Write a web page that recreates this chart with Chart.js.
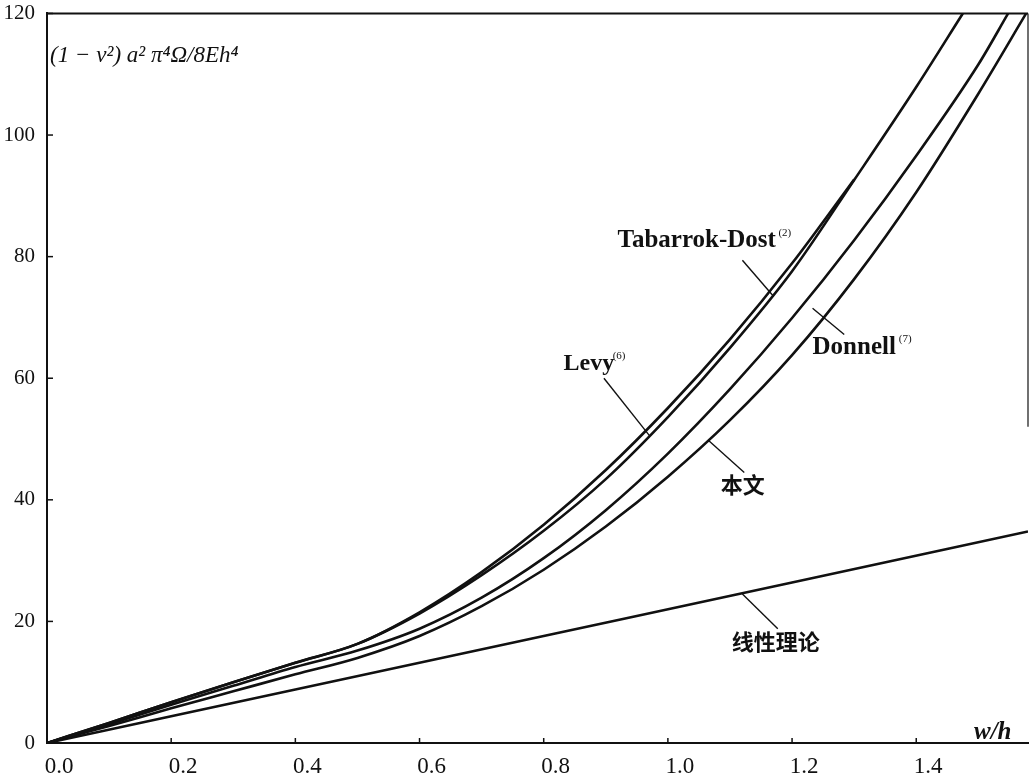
<!DOCTYPE html>
<html>
<head>
<meta charset="utf-8">
<script src="https://cdn.jsdelivr.net/npm/chart.js@4.4.0/dist/chart.umd.min.js"></script>
<style>
  html, body { margin: 0; padding: 0; background: #fff; }
</style>
</head>
<body>
<canvas id="grafico" width="1031" height="773"></canvas>
<script>
// w/h (abscissa) e valores
const xLevy = [0, 0.1, 0.2, 0.3, 0.4, 0.5, 0.6, 0.7, 0.8, 0.9, 1.0, 1.1, 1.2, 1.3];
const yLevy = [0, 3.3, 6.7, 10.0, 13.2, 16.3, 21.5, 28.1, 35.9, 44.9, 55.1, 66.4, 78.9, 92.7];

const xTabarrok = [0, 0.1, 0.2, 0.3, 0.4, 0.5, 0.6, 0.7, 0.8, 0.9, 1.0, 1.1, 1.2, 1.3, 1.4, 1.475];
const yTabarrok = [0, 3.3, 6.7, 10.0, 13.2, 16.3, 21.3, 27.6, 34.9, 43.4, 53.6, 65.0, 77.6, 92.6, 107.9, 120];

const xDonnell = [0, 0.1, 0.2, 0.3, 0.4, 0.5, 0.6, 0.7, 0.8, 0.9, 1.0, 1.1, 1.2, 1.3, 1.4, 1.5, 1.548];
const yDonnell = [0, 3.1, 6.3, 9.4, 12.5, 15.2, 18.8, 23.9, 30.4, 38.3, 47.6, 58.2, 69.9, 82.7, 96.6, 111.6, 120];

const xBenwen = [0, 0.1, 0.2, 0.3, 0.4, 0.5, 0.6, 0.7, 0.8, 0.9, 1.0, 1.1, 1.2, 1.3, 1.4, 1.5, 1.577];
const yBenwen = [0, 2.8, 5.7, 8.5, 11.3, 14.0, 17.6, 22.5, 28.5, 35.6, 43.8, 53.1, 63.8, 76.3, 90.6, 106.8, 120];

const xLinear = [0, 0.4, 0.8, 1.2, 1.58];
const yLinear = [0, 8.8, 17.6, 26.4, 34.8];

const xTicks = [0, 0.2, 0.4, 0.6, 0.8, 1.0, 1.2, 1.4];
const yTicks = [0, 20, 40, 60, 80, 100, 120];

const nomes = ['Levy', 'Tabarrok-Dost', 'Donnell', '本文', '线性理论'];

const serif = '"Liberation Serif", "DejaVu Serif", serif';
const cjk = '"Noto Sans CJK SC", sans-serif';

const pontos = (xs, ys) => xs.map((v, i) => ({ x: v, y: ys[i] }));

// rótulos, chamadas e moldura
const anotacoes = {
  id: 'anotacoes',
  afterDraw(chart) {
    const { ctx, chartArea: a } = chart;
    const sx = chart.scales.x, sy = chart.scales.y;
    const px = v => sx.getPixelForValue(v);
    const py = v => sy.getPixelForValue(v);
    const linha = (x1, y1, x2, y2) => {
      ctx.beginPath(); ctx.moveTo(x1, y1); ctx.lineTo(x2, y2); ctx.stroke();
    };

    ctx.save();
    ctx.strokeStyle = '#111';
    ctx.fillStyle = '#111';

    // moldura
    ctx.lineWidth = 2;
    linha(a.left, a.top, a.right, a.top);
    ctx.lineWidth = 1.2;
    linha(a.right, a.top, a.right, py(52));

    // marcas para dentro
    ctx.lineWidth = 1.5;
    xTicks.forEach(v => linha(px(v), a.bottom, px(v), a.bottom - 5));
    yTicks.forEach(v => linha(a.left, py(v), a.left + 6, py(v)));

    // chamadas (de -> até, em w/h e valor)
    ctx.lineWidth = 1.4;
    [
      [1.120, 79.4, 1.169, 73.6],
      [0.897, 60.0, 0.970, 50.6],
      [1.284, 67.2, 1.233, 71.5],
      [1.123, 44.5, 1.066, 49.7],
      [1.177, 18.8, 1.120, 24.5]
    ].forEach(g => linha(px(g[0]), py(g[1]), px(g[2]), py(g[3])));

    ctx.textBaseline = 'middle';
    ctx.textAlign = 'left';

    // nomes das curvas
    ctx.font = 'bold 24px ' + serif;
    ctx.fillText(nomes[0], px(0.832), py(62.3));
    ctx.textAlign = 'right';
    ctx.font = 'bold 25px ' + serif;
    ctx.fillText(nomes[1], px(1.174), py(82.6));
    ctx.textAlign = 'left';
    ctx.fillText(nomes[2], px(1.233), py(65.0));

    ctx.font = '11px ' + serif;
    ctx.fillText('(6)', px(0.911), py(63.6));
    ctx.fillText('(2)', px(1.178), py(83.8));
    ctx.fillText('(7)', px(1.372), py(66.4));

    ctx.font = 'bold 22px ' + cjk;
    ctx.fillText(nomes[3], px(1.085), py(42.5));
    ctx.fillText(nomes[4], px(1.103), py(16.7));

    // títulos dos eixos
    ctx.font = 'italic 23px ' + serif;
    ctx.fillText('(1 \u2212 \u03bd\u00b2) a\u00b2 \u03c0\u2074\u03a9/8Eh\u2074', px(0.005), py(113));
    ctx.font = 'italic bold 25px ' + serif;
    ctx.fillText('w/h', px(1.493), py(1.8));

    ctx.restore();
  }
};

const ctx = document.getElementById('grafico').getContext('2d');

const estilo = { borderColor: '#111', borderWidth: 2.6, pointRadius: 0, fill: false, cubicInterpolationMode: 'monotone' };

new Chart(ctx, {
  type: 'line',
  data: {
    datasets: [
      { label: nomes[0], data: pontos(xLevy, yLevy), ...estilo },
      { label: nomes[1], data: pontos(xTabarrok, yTabarrok), ...estilo },
      { label: nomes[2], data: pontos(xDonnell, yDonnell), ...estilo },
      { label: nomes[3], data: pontos(xBenwen, yBenwen), ...estilo },
      { label: nomes[4], data: pontos(xLinear, yLinear), ...estilo }
    ]
  },
  options: {
    responsive: false,
    animation: false,
    layout: { padding: { top: 4, right: 3, left: 0, bottom: 0 } },
    plugins: { legend: { display: false }, tooltip: { enabled: false } },
    scales: {
      x: {
        type: 'linear',
        min: 0,
        max: 1.58,
        grid: { display: false },
        border: { color: '#111', width: 2 },
        afterFit: s => { s.height = 30; },
        afterBuildTicks: s => { s.ticks = xTicks.map(v => ({ value: v })); },
        ticks: {
          padding: 2,
          labelOffset: 12,
          color: '#111',
          font: { family: serif, size: 23 },
          callback: v => v.toFixed(1)
        }
      },
      y: {
        min: 0,
        max: 120,
        grid: { display: false },
        border: { color: '#111', width: 2 },
        afterFit: s => { s.width = 47; },
        afterBuildTicks: s => { s.ticks = yTicks.map(v => ({ value: v })); },
        ticks: {
          padding: 4,
          color: '#111',
          font: { family: serif, size: 21, lineHeight: 0.9 }
        }
      }
    }
  },
  plugins: [anotacoes]
});
</script>
</body>
</html>
